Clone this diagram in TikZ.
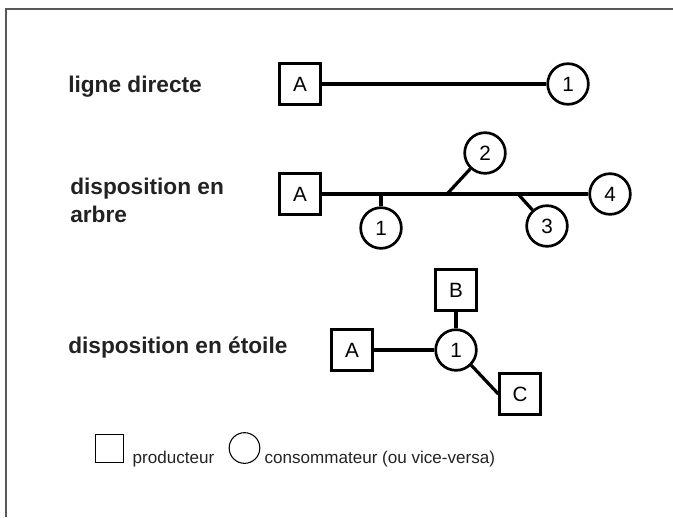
\documentclass[tikz,border=0pt]{standalone}
\usepackage{fontspec}
\setmainfont{Liberation Sans}
\usepackage{tikz}
\usetikzlibrary{shapes, positioning}
\definecolor{ink}{HTML}{222222}
\tikzstyle{prod} = [rectangle, draw=black, line width=2pt, minimum size=30.5pt, inner sep=0pt, font=\fontsize{15.5}{18}\selectfont, fill=white]
\tikzstyle{cons} = [circle, draw=black, line width=2pt, minimum size=30.5pt, inner sep=0pt, font=\fontsize{15.5}{18}\selectfont, fill=white]
\tikzstyle{link} = [line width=2.4pt]
\tikzstyle{title} = [anchor=base west, inner sep=0pt, text=ink, align=left, font=\bfseries\fontsize{17}{21}\selectfont]
\tikzstyle{legtext} = [anchor=base west, inner sep=0pt, text=ink, font=\fontsize{12.8}{15}\selectfont]

\begin{document}
\begin{tikzpicture}[x=0.75pt, y=-0.75pt]

    \useasboundingbox (0,0) rectangle (673,517);
    \draw [gray!70!black, line width=1.2pt] (6,517) -- (6,9) -- (673,9);

    \node (t1) [title] at (68,92) {ligne directe};
    \node (t2) [title] at (70,222) {disposition en\\arbre};
    \node (t3) [title] at (68,353) {disposition en étoile};

    \node (A1) [prod] at (300,84) {A};
    \node (d1) [cons] at (568,84) {1};
    \draw [link] (A1) -- (d1);

    \node (A2) [prod] at (300,194) {A};
    \node (a1) [cons] at (381,228) {1};
    \node (a2) [cons] at (485,153) {2};
    \node (a3) [cons] at (547,226) {3};
    \node (a4) [cons] at (610,194) {4};
    \coordinate (k2) at (447,194);
    \coordinate (k3) at (518,194);
    \draw [link] (A2) -- (a4);
    \draw [link] (a1.north) -- (a1.north |- A2);
    \draw [link] (k2) -- (a2);
    \draw [link] (k3) -- (a3);

    \node (A3) [prod] at (352,350) {A};
    \node (e1) [cons] at (456,350) {1};
    \node (B3) [prod] at (456,290) {B};
    \node (C3) [prod] at (520,394) {C};
    \draw [link] (A3) -- (e1);
    \draw [link] (B3) -- (e1);
    \draw [link] (e1.-45) -- (C3.west);

    \node (lsq) [rectangle, draw=black, line width=0.8pt, minimum size=21.5pt] at (109.5,448.5) {};
    \node (lprod) [legtext, xshift=6pt] at (lsq.south east) {producteur};
    \node (lcrc) [circle, draw=black, line width=0.8pt, minimum size=23pt, inner sep=0pt] at (244.5,448) {};
    \node (lcons) [legtext, xshift=3pt] at (lcrc.south -| lcrc.east) {consommateur (ou vice-versa)};

\end{tikzpicture}
\end{document}
